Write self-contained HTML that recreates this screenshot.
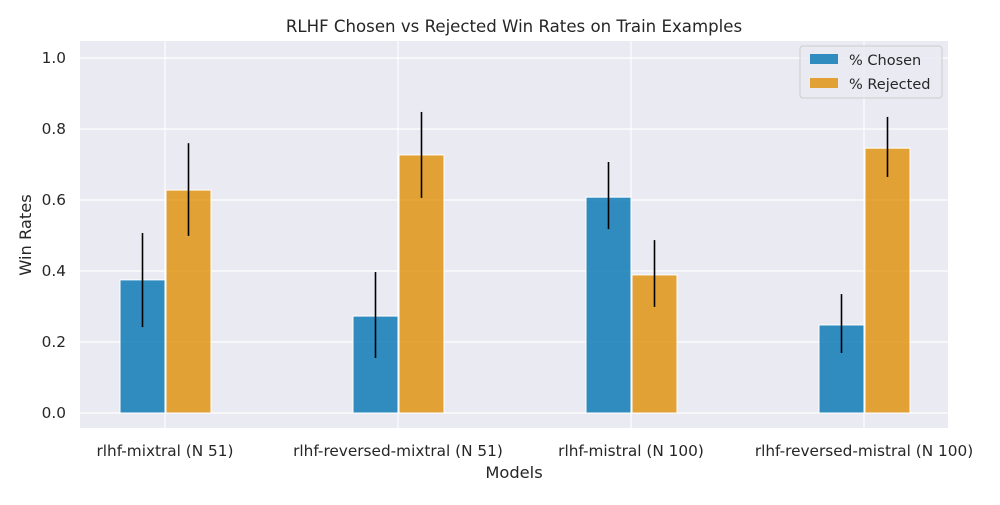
<!DOCTYPE html>
<html><head><meta charset="utf-8"><style>
body{margin:0;background:#fff;font-family:"Liberation Sans","DejaVu Sans",sans-serif;}
</style></head><body>
<svg id="chart" width="1000" height="500" xmlns="http://www.w3.org/2000/svg" font-family="'DejaVu Sans','Liberation Sans',sans-serif">
<rect x="80" y="41" width="868" height="387" fill="#eaeaf2"/>
<g id="grid"></g><g id="bars"></g><g id="ticks"></g>
<text x="514" y="32" text-anchor="middle" font-size="16.6" fill="#262626">RLHF Chosen vs Rejected Win Rates on Train Examples</text>
<text x="514" y="478" text-anchor="middle" font-size="16.3" fill="#262626">Models</text>
<text transform="translate(31,235) rotate(-90)" text-anchor="middle" font-size="16.3" fill="#262626">Win Rates</text>
<g>
<rect x="800" y="46" width="142" height="52" rx="3" fill="#eaeaf2" fill-opacity="0.8" stroke="#cccccc"/>
<rect x="810" y="54" width="28" height="10" fill="#0173b2" fill-opacity="0.8"/>
<text x="849" y="65" font-size="14.5" fill="#262626">% Chosen</text>
<rect x="810" y="78" width="28" height="10" fill="#de8f05" fill-opacity="0.8"/>
<text x="849" y="89" font-size="14.5" fill="#262626">% Rejected</text>
</g>
</svg>
<script>
const categories=["rlhf-mixtral (N 51)","rlhf-reversed-mixtral (N 51)","rlhf-mistral (N 100)","rlhf-reversed-mistral (N 100)"];
const chosen=[0.375,0.273,0.608,0.248];
const chosenLo=[0.242,0.155,0.518,0.169];
const chosenHi=[0.507,0.397,0.707,0.335];
const rejected=[0.628,0.727,0.389,0.746];
const rejectedLo=[0.499,0.606,0.299,0.665];
const rejectedHi=[0.760,0.848,0.487,0.834];
const yTicks=[0,0.2,0.4,0.6,0.8,1.0];
const NS="http://www.w3.org/2000/svg";
const y=v=>413-v*355;
const xc=i=>165+i*233;
function mk(t,a,p){const e=document.createElementNS(NS,t);for(const k in a)e.setAttribute(k,a[k]);p.appendChild(e);return e;}
const grid=document.getElementById('grid'),bars=document.getElementById('bars'),ticks=document.getElementById('ticks');
yTicks.forEach(v=>{
 const l=mk('line',{x1:80,x2:948,y1:y(v),y2:y(v),stroke:'#fff','stroke-width':1.2},grid);
 
 
 const t=mk('text',{x:66,y:y(v)+5,'text-anchor':'end','font-size':15.3,fill:'#262626'},ticks);
 t.textContent=v.toFixed(1);
 
 
});
categories.forEach((c,i)=>{
 const g=mk('line',{x1:xc(i),x2:xc(i),y1:41,y2:428,stroke:'#fff','stroke-width':1.2},grid);
 
 
 const t=mk('text',{x:xc(i),y:456,'text-anchor':'middle','font-size':15.3,fill:'#262626'},ticks);
 t.textContent=c;
 
 
 [[chosen,chosenLo,chosenHi,'#0173b2',-45,'chosen'],[rejected,rejectedLo,rejectedHi,'#de8f05',1,'rejected']].forEach(s=>{
  const v=s[0][i];
  const r=mk('rect',{x:xc(i)+s[4],y:y(v),width:45,height:y(0)-y(v),fill:s[3],'fill-opacity':0.8,stroke:'#fff','stroke-width':1},bars);
  
  
  const e=mk('line',{x1:xc(i)+s[4]+22.5,x2:xc(i)+s[4]+22.5,y1:y(s[1][i]),y2:y(s[2][i]),stroke:'#000','stroke-width':1.6},bars);
  
  
 });
});
</script>
</body></html>
